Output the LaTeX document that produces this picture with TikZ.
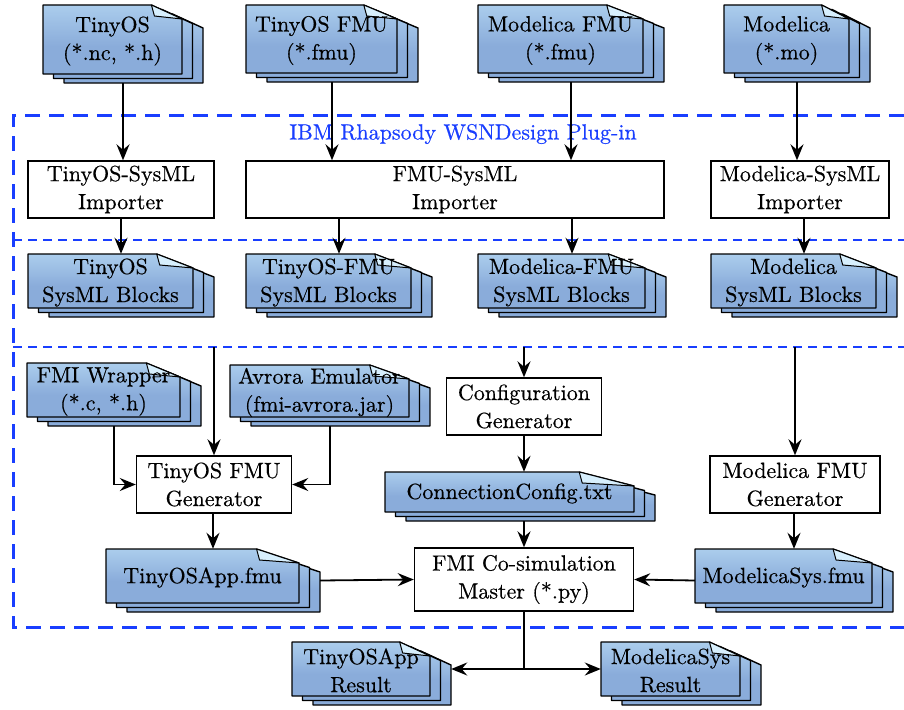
\documentclass[tikz,border=0pt]{standalone}
\usepackage{fontspec}
\newfontfamily\labelserif{lmroman10-regular.otf}[FakeBold=0.5]
\usetikzlibrary{arrows.meta}

\definecolor{doclight}{RGB}{198,232,252}
\definecolor{docdark}{RGB}{138,172,218}
\definecolor{planblue}{RGB}{25,62,255}
\pgfdeclareverticalshading{docshade}{100bp}{color(0bp)=(docdark); color(45bp)=(docdark); color(100bp)=(doclight)}

\newcommand\difont{\labelserif\fontsize{22}{28}\selectfont}

% stack of three documents: name, left, top, right, bottom (front sheet), text
\newcommand\docstack[6]{%
  \foreach \k in {2,1,0}{
    \path[docpage] ({#2+10.5*\k},{#5+4.5*\k}) -- ({#2+10.5*\k},{#3+4.5*\k})
      -- ({#4-0.22*(#4-#2)+10.5*\k},{#3+4.5*\k}) -- ({#4+10.5*\k},{#3+14+4.5*\k})
      -- ({#4+10.5*\k},{#5+4.5*\k}) -- cycle;
  }
  \path[docfold] ({#4-0.22*(#4-#2)},{#3}) -- ({#4-0.22*(#4-#2)+3},{#3+11}) -- ({#4},{#3+14}) -- cycle;
  \node[doctext] (#1-t) at ({(#2+#4)/2},{(#3+#5)/2+1.5}) {#6};
  \node[docbound, minimum width={(#4-#2+21)*1pt}, minimum height={(#5-#3+9)*1pt}]
    (#1) at ({(#2+#4+21)/2},{(#3+#5+9)/2}) {};
}

\begin{document}
\begin{tikzpicture}[x=1pt, y=-1pt,
  >={Stealth[length=16pt,width=13pt,inset=5.5pt]},
  box/.style={draw, line width=1.4pt, fill=white, inner sep=0pt, align=center, font=\difont},
  docpage/.style={draw, line width=1.4pt, shading=docshade, line join=round},
  docfold/.style={draw, line width=1pt, fill=doclight!70!white, line join=round},
  doctext/.style={inner sep=0pt, align=center, font=\difont},
  docbound/.style={inner sep=0pt, draw=none},
  conn/.style={line width=1.8pt, ->},
  plain/.style={line width=1.8pt},
  frame/.style={planblue, line width=3pt, dash pattern=on 15pt off 9pt},
  sep/.style={planblue, line width=1.4pt, dash pattern=on 9pt off 6pt}]

\useasboundingbox (0,0) rectangle (904,709);

% plug-in frame and phase separators
\draw[frame] (904,115) -- (13,115) -- (13,627) -- (904,627);
\draw[sep] (13,240) -- (904,240);
\draw[sep] (13,347) -- (904,347);
\node[font=\difont, text=planblue, inner sep=0pt] (plugin) at (463,134) {IBM Rhapsody WSNDesign Plug-in};

% input documents
\docstack{tinyos}{43}{5}{182}{74}{TinyOS\\(*.nc, *.h)}
\docstack{tfmu}{246}{5}{397}{73}{TinyOS FMU\\(*.fmu)}
\docstack{mfmu}{478}{5}{643}{73}{Modelica FMU\\(*.fmu)}
\docstack{mo}{724}{5}{849}{73}{Modelica\\(*.mo)}

% importers
\node[box, minimum width=186pt, minimum height=57pt] (imp1) at (121,189.5) {TinyOS-SysML\\Importer};
\node[box, minimum width=418pt, minimum height=57pt] (imp2) at (455,189.5) {FMU-SysML\\Importer};
\node[box, minimum width=178pt, minimum height=57pt] (imp3) at (800,189.5) {Modelica-SysML\\Importer};

% SysML blocks
\docstack{tblk}{28}{254}{193}{308}{TinyOS\\SysML Blocks}
\docstack{tfblk}{246}{254}{411}{308}{TinyOS-FMU\\SysML Blocks}
\docstack{mfblk}{478}{254}{645}{308}{Modelica-FMU\\SysML Blocks}
\docstack{mblk}{711}{254}{876}{308}{Modelica\\SysML Blocks}

% generation
\docstack{wrap}{27}{363}{180}{417}{FMI Wrapper\\(*.c, *.h)}
\docstack{avrora}{230}{365}{409}{417}{Avrora Emulator\\(fmi-avrora.jar)}
\node[box, minimum width=155pt, minimum height=57pt] (cfggen) at (524,406.5) {Configuration\\Generator};
\node[box, minimum width=155pt, minimum height=57pt] (tgen) at (214,484.5) {TinyOS FMU\\Generator};
\node[box, minimum width=170pt, minimum height=57pt] (mgen) at (795,484.5) {Modelica FMU\\Generator};
\docstack{conn}{385}{472}{634}{512}{ConnectionConfig.txt}
\docstack{tapp}{106}{549}{299}{603}{TinyOSApp.fmu}
\docstack{msys}{695}{549}{872}{603}{ModelicaSys.fmu}
\node[box, minimum width=219pt, minimum height=63pt] (master) at (524,579.5) {FMI Co-simulation\\Master (*.py)};

% results
\docstack{tres}{292}{642}{430}{696}{TinyOSApp\\Result}
\docstack{mres}{601}{642}{740}{696}{ModelicaSys\\Result}

% entry points below the block separator
\coordinate (e1) at (214,347);
\coordinate (e2) at (524,347);
\coordinate (e3) at (795,347);
\coordinate (split) at (524,669);

% connectors
\draw[conn] (tinyos.south) -- (tinyos.south |- imp1.north);
\draw[conn] (tfmu.south) -- (tfmu.south |- imp2.north);
\draw[conn] (mfmu.south) -- (mfmu.south |- imp2.north);
\draw[conn] (mo.south) -- (mo.south |- imp3.north);
\draw[conn] (imp1.south -| tblk.north) -- (tblk.north);
\draw[conn] (imp2.south -| tfblk.north) -- (tfblk.north);
\draw[conn] (imp2.south -| mfblk.north) -- (mfblk.north);
\draw[conn] (imp3.south -| mblk.north) -- (mblk.north);
\draw[conn] (e1) -- (tgen.north);
\draw[conn] (e2) -- (cfggen.north);
\draw[conn] (e3) -- (mgen.north);
\draw[conn] (wrap.south) |- (tgen.west);
\draw[conn] (avrora.south) |- (tgen.east);
\draw[conn] (cfggen.south) -- (cfggen.south |- conn.north);
\draw[conn] (master.north |- conn.south) -- (master.north);
\draw[conn] (tgen.south -| tapp.north) -- (tapp.north);
\draw[conn] (mgen.south -| msys.north) -- (msys.north);
\draw[conn] (tapp.east) -- (master.west);
\draw[conn] (msys.west) -- (master.east);
\draw[plain] (master.south) -- (split);
\draw[conn] (split) -- (split -| tres.east);
\draw[conn] (split) -- (split -| mres.west);

\end{tikzpicture}
\end{document}
